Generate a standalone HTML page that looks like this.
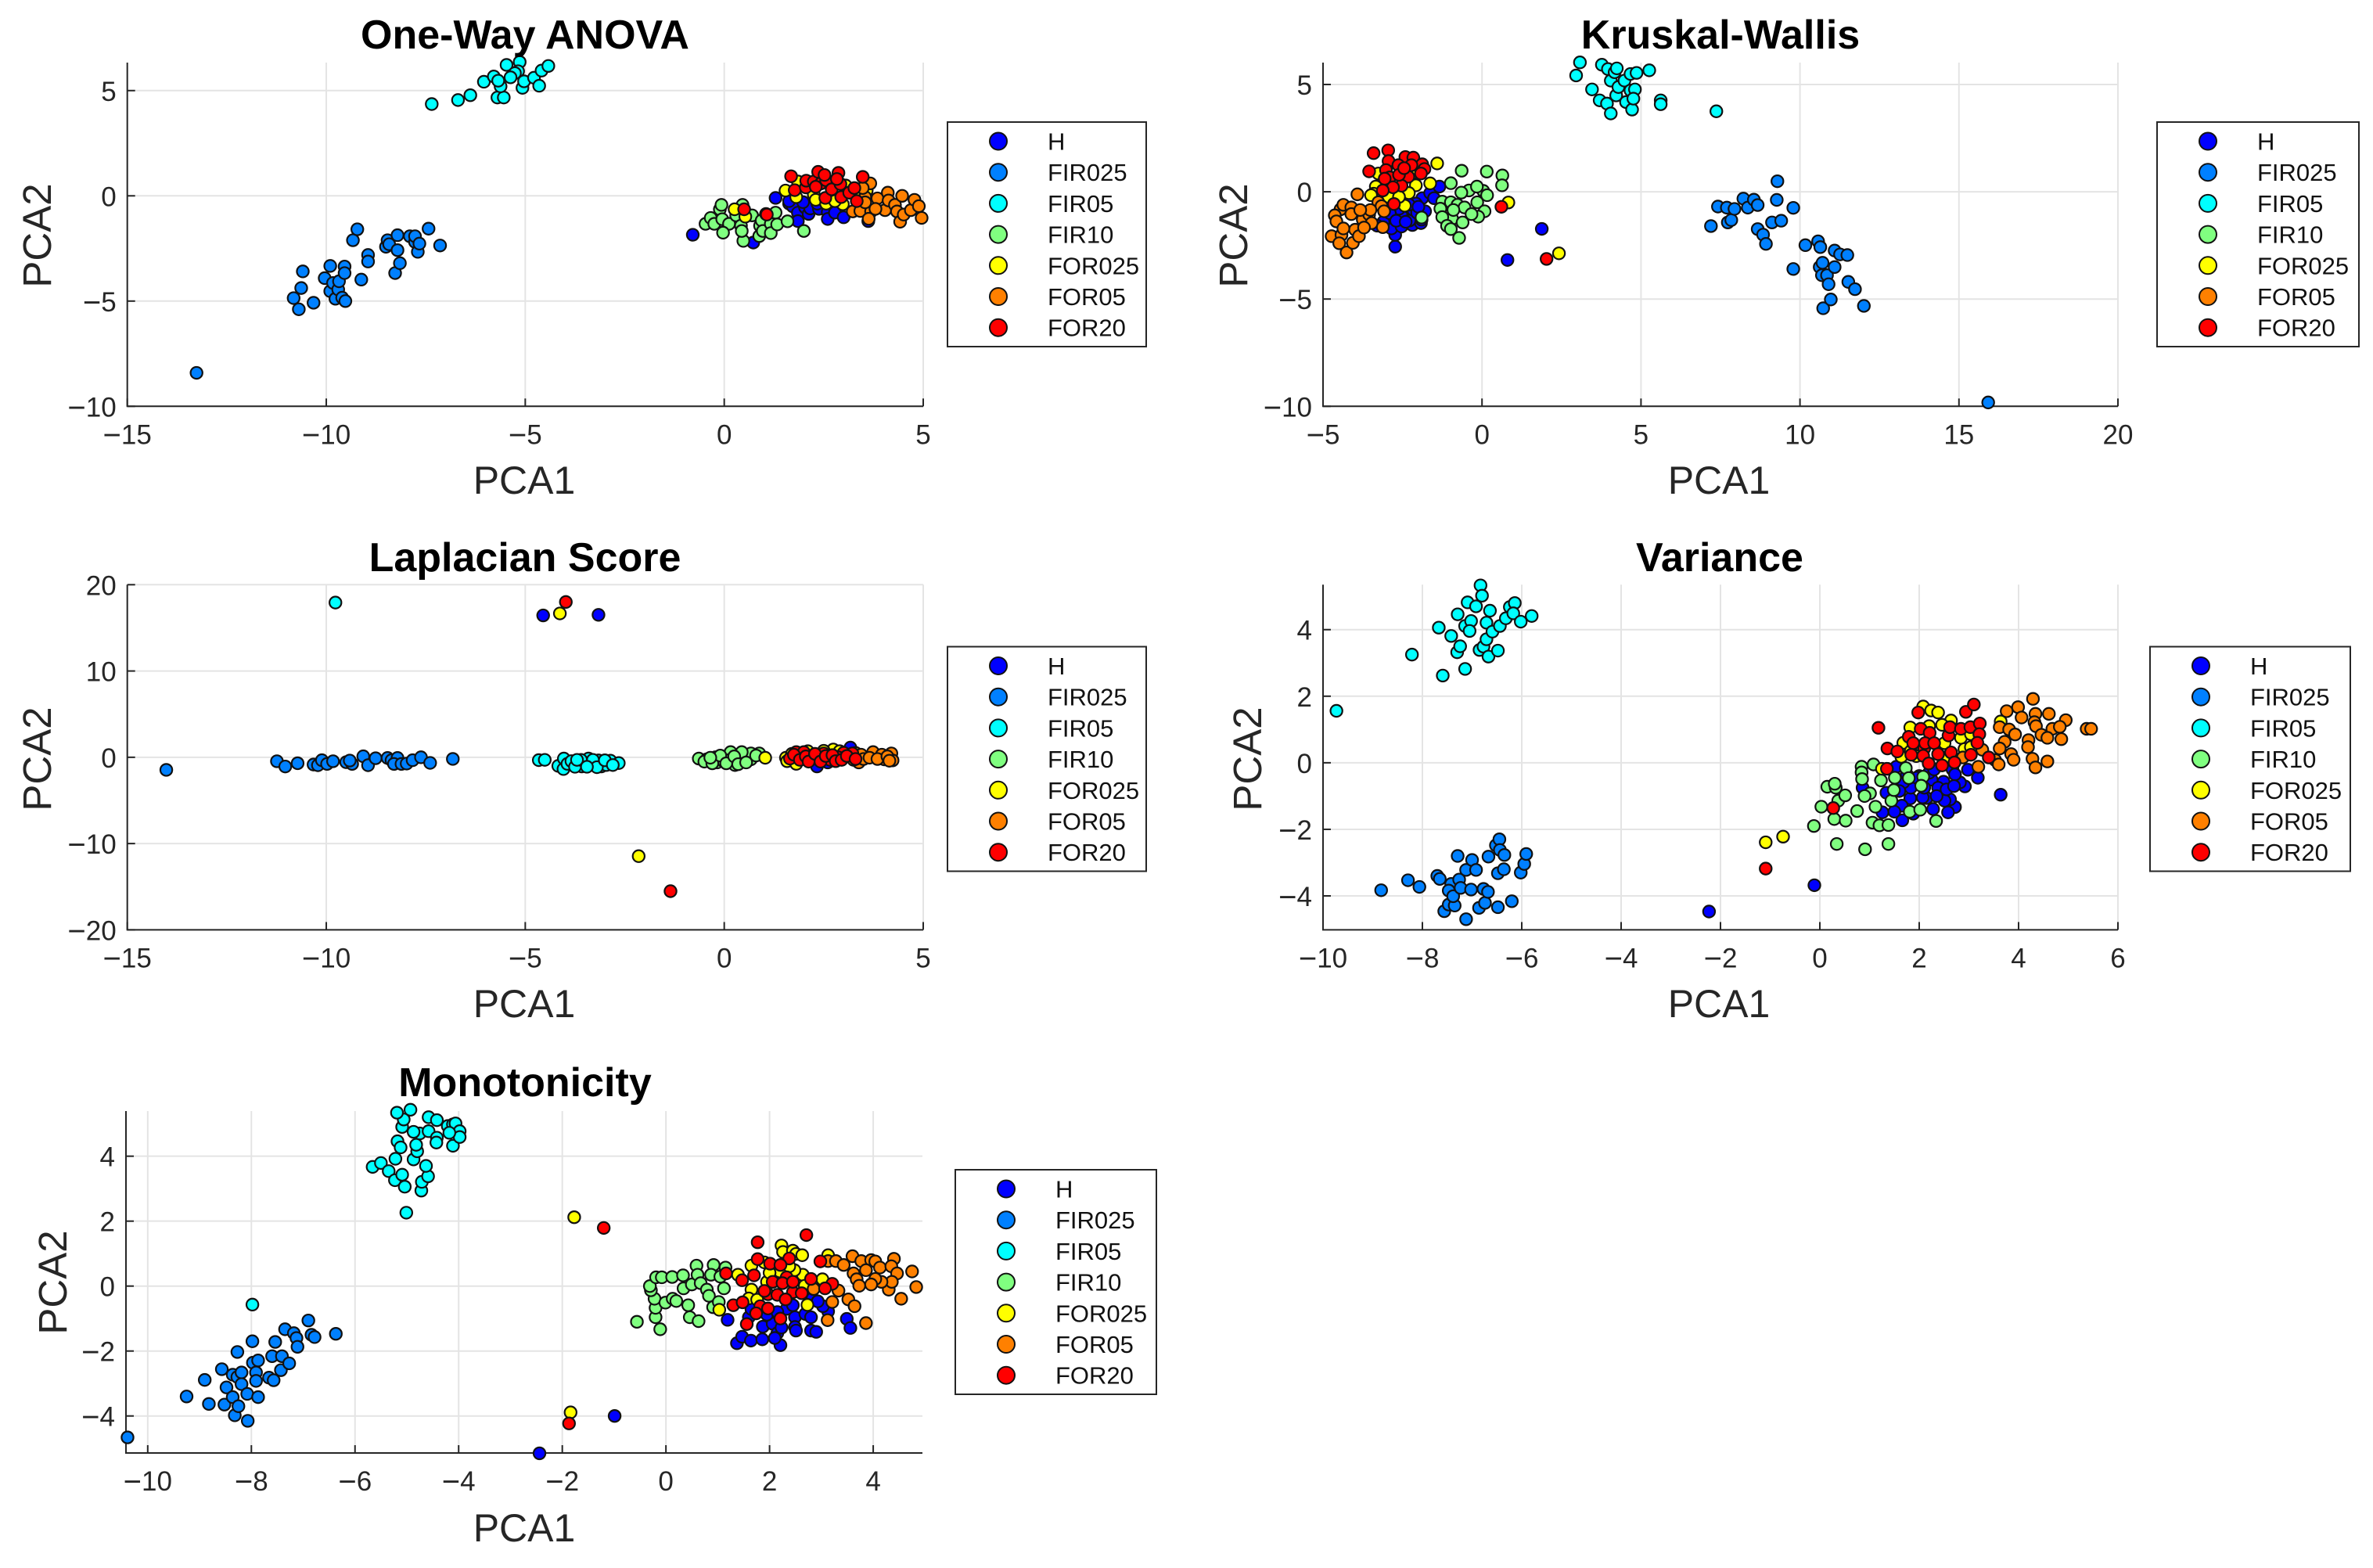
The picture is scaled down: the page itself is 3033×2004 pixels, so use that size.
<!DOCTYPE html>
<html lang="en">
<head>
<meta charset="utf-8">
<title>PCA scatter plots by feature selection method</title>
<style>
html,body{margin:0;padding:0;background:#fff;}
svg{display:block;font-family:"Liberation Sans",Arial,sans-serif;}
</style>
</head>
<body>
<svg id="figure" xmlns="http://www.w3.org/2000/svg" width="3033" height="2004" viewBox="0 0 3033 2004"></svg>
<script>
const seriesNames = ['H','FIR025','FIR05','FIR10','FOR025','FOR05','FOR20'];
const seriesColors = ['#0000ff','#0080ff','#00ffff','#80ff80','#ffff00','#ff8000','#ff0000'];

/* One-Way ANOVA */
const anovaHx = [-0.79,0.73,1.29,1.63,1.72,1.85,1.85,2.03,2.12,2.16,2.38,2.6,2.6,2.78,3.0,3.62,1.63,1.98,2.34];
const anovaHy = [-1.85,-2.22,-0.1,-0.37,-0.5,-0.8,-1.2,-0.55,-0.86,-0.6,-0.62,-0.77,-1.1,-0.8,-1.02,-1.2,-0.25,-0.3,-0.37];
const anovaFir025x = [-13.26,-10.82,-10.69,-10.63,-10.59,-10.32,-10.04,-9.9,-9.9,-9.83,-9.77,-9.7,-9.68,-9.6,-9.52,-9.54,-9.54,-9.33,-9.22,-9.12,-8.95,-8.95,-8.5,-8.46,-8.42,-8.27,-8.21,-8.21,-8.15,-7.9,-7.77,-7.77,-7.7,-7.66,-7.43,-7.14];
const anovaFir025y = [-8.41,-4.86,-5.39,-4.38,-3.59,-5.08,-3.91,-3.33,-4.53,-4.14,-4.89,-4.45,-4.06,-4.84,-5,-3.36,-3.67,-2.11,-1.59,-3.98,-2.81,-3.12,-2.42,-2.11,-2.3,-3.67,-2.58,-1.87,-3.2,-1.92,-2.19,-1.92,-2.66,-2.27,-1.56,-2.36];
const anovaFir05x = [-7.35,-6.69,-6.38,-6.04,-5.79,-5.7,-5.54,-5.62,-5.68,-5.47,-5.14,-5.18,-5.26,-5.37,-5.07,-5.03,-4.78,-4.65,-4.59,-4.42];
const anovaFir05y = [4.36,4.55,4.78,5.42,5.67,4.67,4.67,5.2,5.47,6.22,6.36,5.92,5.83,5.63,5.13,5.44,5.61,5.23,5.95,6.17];
const anovaFir10x = [-0.47,-0.34,-0.25,-0.11,-0.07,-0.05,0.12,-0.03,0.3,0.42,0.46,0.5,0.48,0.44,0.7,0.88,0.9,0.94,0.97,1.17,1.17,1.29,1.33,1.59,2.0,1.05];
const anovaFir10y = [-1.33,-1.05,-1.33,-0.64,-0.43,-1.11,-1.33,-1.75,-0.93,-1.42,-0.43,-0.68,-2.14,-1.67,-0.93,-1.91,-1.42,-1.17,-1.67,-1.33,-1.77,-0.8,-1.36,-1.21,-1.67,-0.86];
const anovaFor025x = [0.26,0.53,1.54,1.81,1.85,2.25,2.3,2.56,2.7,2.98,2.78,3.05,3.58,3.42];
const anovaFor025y = [-0.64,-0.99,0.25,-0.06,0.68,0.06,-0.19,-0.37,0.56,-0.4,-0.25,0.49,0.25,0.19];
const anovaFor05x = [3.23,3.42,3.67,3.54,3.69,3.63,3.85,4.04,4.11,4.13,4.29,4.34,4.42,4.47,4.51,4.69,4.78,4.89,4.96,3.48,3.8,3.54];
const anovaFor05y = [-0.74,-0.72,0.59,-0.06,-0.74,-1.09,-0.12,-0.68,0.15,-0.22,-0.43,-0.74,-1.23,0,-0.89,-0.68,-0.19,-0.49,-1.05,0.37,-0.62,-0.31];
const anovaFor20x = [0.5,1.07,1.68,1.77,2.05,2.06,2.25,2.36,2.43,2.3,2.56,2.54,2.7,2.87,2.92,2.94,3.14,3.27,3.33,3.48,2.83,2.52];
const anovaFor20y = [-0.64,-0.89,0.93,0.27,0.4,0.72,0.68,1.14,0.59,0.43,0.74,-0.1,0.31,1.09,0.56,-0.06,0.15,0.37,-0.25,0.9,0.8,0.99];
const anovaXTicks = [-15,-10,-5,0,5];
const anovaYTicks = [-10,-5,0,5];

/* Kruskal-Wallis */
const kruskalHx = [-2.73,-2.73,-2.85,-2.53,-2.19,-1.92,-2.51,-2.85,-3.1,-3.3,-2.28,-2.16,-1.88,-1.63,-1.51,-1.34,-2.08,-1.79,-2.04,1.88,0.8,-2.61,-2.9,-2.7,-2.4,-2.3,-2.0,-1.9];
const kruskalHy = [-2.56,-2.01,-1.71,-1.62,-1.55,-1.46,-1.16,-1.22,-1.4,-1.58,-1.34,-0.85,-0.3,-0.06,-0.3,0.24,-0.55,-0.91,-0.98,-1.73,-3.18,-0.79,-1,-1.35,-1.4,-0.6,-0.7,-1.3];
const kruskalFir025x = [7.2,7.42,7.7,7.73,7.84,7.94,8.22,8.36,8.55,8.67,8.67,8.84,8.93,9.12,9.27,9.29,9.41,9.79,9.79,10.17,10.57,10.64,10.62,10.71,10.69,10.73,10.85,10.9,10.97,11.09,11.09,11.26,11.49,11.52,11.73,12.01,15.92];
const kruskalFir025y = [-1.6,-0.69,-0.74,-1.43,-1.32,-0.8,-0.32,-0.74,-0.37,-0.62,-1.74,-2,-2.43,-1.43,-0.38,0.49,-1.35,-0.75,-3.6,-2.49,-2.31,-2.58,-3.51,-3.31,-3.89,-5.43,-3.89,-4.31,-5.02,-2.74,-3.51,-2.92,-2.95,-4.2,-4.54,-5.32,-9.82];
const kruskalFir05x = [2.96,3.08,3.46,3.7,3.77,3.93,3.96,4.05,4.05,4.17,4.24,4.22,4.29,4.48,4.53,4.67,4.67,4.72,4.81,4.86,4.76,5.26,5.62,5.62,7.37];
const kruskalFir05y = [5.42,6.03,4.77,4.26,5.92,4.11,5.72,3.65,5.18,5.57,5.75,4.49,4.88,5.18,4.18,4.72,5.49,3.83,4.77,5.54,4.34,5.66,4.26,4.08,3.75];
const kruskalFir10x = [-0.64,0.15,0.64,0.63,-0.98,-0.41,-0.65,0.04,0.16,-0.16,-1.25,-1.31,-0.98,-0.77,-0.55,-0.15,0.08,-0.12,-0.33,-0.94,-1.25,-0.61,-1.1,-0.98,-0.72,-1.9,-0.9];
const kruskalFir10y = [0.98,0.94,0.76,0.3,0.4,0.06,-0.04,0.04,-0.16,0.24,-0.46,-0.79,-0.49,-0.61,-0.73,-0.49,-0.91,-1.16,-1.04,-1.26,-1.18,-1.43,-1.59,-1.74,-2.15,-1.2,-0.85];
const kruskalFor025x = [-1.41,-1.63,-2.08,-2.43,-2.3,-3.34,-3.41,-3.49,-3.26,0.83,2.42,-2.12,-2.94,-2.61];
const kruskalFor025y = [1.32,0.39,0.3,-0.65,-0.06,0.24,-0.09,-0.16,0.85,-0.5,-2.87,0.91,-0.24,-0.24];
const kruskalFor05x = [-3.92,-4.45,-4.63,-4.58,-4.36,-4.11,-4.11,-4.73,-4.42,-4.49,-4.26,-4.06,-3.99,-3.87,-3.75,-3.55,-3.47,-3.71,-3.26,-3.16,-3.08,-3.12,-3.51,-4.36,-3.83];
const kruskalFor05y = [-0.12,-0.82,-1.1,-1.38,-0.61,-0.73,-1.04,-2.07,-2.01,-2.4,-2.83,-2.38,-1.77,-2.07,-1.3,-1.06,-1.46,-1.67,-0.49,-0.67,-0.91,-1.65,-0.85,-1.71,-0.85];
const kruskalFor20x = [-3.41,-2.95,-3.55,-2.94,-2.41,-2.16,-1.88,-2.63,-2.22,-1.81,-3.02,-2.9,-2.32,-2.53,-2.8,-3.12,-2.77,-1.92,-2.61,-3.06,0.61,2.03,-2.45];
const kruskalFor20y = [1.8,1.93,0.95,1.43,1.62,1.59,1.28,1.24,1.24,1.06,1.01,0.67,0.7,0.28,0.21,0.06,-0.57,0.85,0.79,0.61,-0.7,-3.13,1.1];
const kruskalXTicks = [-5,0,5,10,15,20];
const kruskalYTicks = [-10,-5,0,5];

/* Laplacian Score */
const laplacianHx = [2.33,3.17,2.6,-4.55,-3.16];
const laplacianHy = [-1.06,1.12,-0.6,16.44,16.51];
const laplacianFir025x = [-14.02,-11.24,-11.03,-10.72,-10.32,-10.21,-10.11,-9.98,-9.83,-9.5,-9.35,-9.41,-9.07,-8.95,-8.76,-8.46,-8.36,-8.21,-8.3,-8.11,-7.98,-7.83,-7.62,-7.39,-6.82];
const laplacianFir025y = [-1.46,-0.46,-1.07,-0.69,-0.84,-0.92,-0.34,-0.77,-0.46,-0.57,-0.77,-0.38,0.11,-0.92,-0.11,-0.08,-0.34,-0.08,-0.77,-0.77,-0.73,-0.34,0,-0.65,-0.19];
const laplacianFir05x = [-4.66,-4.51,-4.17,-4.04,-4.03,-3.94,-3.68,-3.52,-3.4,-3.29,-3.16,-3.09,-2.86,-2.65,-3.84,-3.41,-2.96,-3.58,-9.77,-3.75,-3.6,-3.3,-3.2,-3.0,-2.8,-3.7,-3.45];
const laplacianFir05y = [-0.33,-0.3,-1,-1.36,-0.15,-0.76,-0.6,-0.45,-0.9,-0.6,-0.36,-1.06,-0.39,-0.67,-0.45,-0.15,-0.9,-1.06,17.93,-1.1,-0.3,-0.3,-1.15,-0.35,-0.9,-0.3,-1.1];
const laplacianFir10x = [-0.64,-0.44,-0.22,-0.18,-0.02,0.16,0.14,0.27,0.4,0.67,0.67,0.88,0.44,-0.5,-0.3,-0.1,0.05,0.25,0.35,0.55,0.8,-0.35];
const laplacianFir10y = [-0.15,-0.24,0,-0.6,-0.45,0.6,-0.3,-0.9,-0.06,-0.24,0.45,0.45,0.6,-0.5,-0.7,0.2,-0.7,0.1,-0.8,-0.6,0.2,-0.05];
const laplacianFor025x = [1.03,1.55,1.58,1.81,2.74,2.27,-4.13,-2.15,1.7,2.1,2.5,2.9,3.3];
const laplacianFor025y = [-0.06,-0.06,-0.45,-0.76,0.9,-0.15,16.67,-11.46,0.4,0.7,0.75,0.7,0.5];
const laplacianFor05x = [3.38,3.44,3.74,3.96,4.02,4.2,4.23,3.25,3.5,3.65,3.85,4.1,4.15];
const laplacianFor05y = [-0.6,0.3,0.6,0.3,-0.24,0.45,-0.36,-0.3,-0.2,-0.05,-0.2,0.1,-0.4];
const laplacianFor20x = [1.65,1.81,2.0,1.94,2.2,2.38,2.66,2.5,3.0,3.22,2.86,2.17,-3.98,-1.35,1.75,1.9,2.05,2.12,2.28,2.42,2.55,2.72,2.8,2.95,3.08,3.3];
const laplacianFor20y = [-0.15,0.6,0.6,-0.24,0.06,-0.06,-0.3,0.45,0.52,0.45,0,-0.15,18,-15.52,0.3,-0.3,0.1,-0.5,0.4,-0.5,0.15,0.25,-0.45,-0.3,0.15,-0.2];
const laplacianXTicks = [-15,-10,-5,0,5];
const laplacianYTicks = [-20,-10,0,10,20];

/* Variance */
const varianceHx = [3.64,3.18,2.98,2.92,2.82,2.72,2.58,2.62,2.51,2.49,2.28,2.25,2.38,2.15,2.07,1.82,1.83,1.65,1.66,1.5,1.26,1.54,1.68,2.67,2.72,1.88,1.34,0.86,-0.11,-2.23,2.0,2.1,2.2,2.35,2.55,1.75,1.95,2.3,2.7,1.6];
const varianceHy = [-0.96,-0.45,-0.21,-0.71,-0.59,-1.33,-1.49,-1.1,-1.14,-0.57,-1.39,-0.51,-0.75,-1.06,-1.04,-1.07,-0.75,-1.29,-1.73,-1.47,-1.49,-0.12,-0.59,-0.2,-0.35,-1.53,-0.9,-0.75,-3.68,-4.47,-0.4,-0.75,-0.3,-1.0,-0.8,-0.35,-0.45,-0.2,-0.7,-0.85];
const varianceFir025x = [-8.83,-8.29,-8.06,-7.7,-7.65,-7.42,-7.47,-7.56,-7.47,-7.35,-7.38,-7.26,-7.29,-7.23,-7.12,-7.12,-7.0,-7.02,-6.92,-6.86,-6.74,-6.77,-6.68,-6.67,-6.52,-6.45,-6.48,-6.48,-6.44,-6.35,-6.36,-6.2,-6.02,-5.95,-5.91];
const varianceFir025y = [-3.83,-3.53,-3.73,-3.4,-3.49,-3.64,-3.84,-4.46,-4.26,-4.29,-4.01,-3.51,-2.8,-3.76,-4.7,-3.22,-2.92,-3.81,-3.22,-4.36,-4.21,-3.79,-3.88,-2.82,-2.48,-2.3,-3.32,-4.34,-2.62,-2.77,-3.2,-4.16,-3.3,-3.04,-2.74];
const varianceFir05x = [-9.73,-8.21,-7.59,-7.67,-7.42,-7.3,-7.24,-7.14,-7.29,-7.14,-7.09,-7.02,-7.05,-6.92,-6.85,-6.83,-6.8,-6.77,-6.71,-6.71,-6.67,-6.64,-6.59,-6.48,-6.44,-6.32,-6.24,-6.14,-6.17,-6.02,-5.8];
const varianceFir05y = [1.56,3.25,2.62,4.06,3.81,3.32,3.5,2.82,4.46,4.11,4.82,4.26,3.96,4.7,3.39,5.33,5.02,3.49,3.71,4.21,3.19,4.57,3.94,3.37,4.11,4.34,4.68,4.8,4.49,4.24,4.41];
const varianceFir10x = [-0.12,0.34,0.91,1.38,0.03,0.29,0.52,0.75,0.37,0.51,0.15,0.32,0.3,0.84,0.84,0.85,1.08,1.23,1.01,0.9,1.12,1.06,1.2,1.38,1.44,1.49,1.51,1.73,1.79,2.08,2.04,1.81,2.02,2.34];
const varianceFir10y = [-1.9,-2.44,-2.6,-2.44,-1.32,-1.69,-1.74,-1.45,-1.14,-0.98,-0.72,-0.75,-0.63,-0.12,-0.29,-0.49,-0.05,-0.53,-0.92,-1,-1.32,-1.8,-1.88,-1.87,-1.14,-0.82,-0.45,-0.16,-0.46,-0.42,-0.69,-1.47,-1.41,-1.75];
const varianceFor025x = [-1.09,-0.74,1.25,2.08,2.24,2.38,2.64,1.82,2.2,2.46,1.68,1.64,2.84,2.91,3.04,3.64,2.51,1.83,3.04,2.54,1.94];
const varianceFor025y = [-2.39,-2.22,-0.18,1.69,1.57,1.51,1.27,1.06,1.1,1.14,0.6,0.18,0.75,0.41,0.86,1.24,0.59,0.35,0.47,0.16,0.2];
const varianceFor05x = [4.29,3.76,3.99,4.06,4.34,4.32,4.61,4.95,3.62,3.81,3.93,4.35,4.68,4.83,4.46,4.86,4.58,4.2,4.19,3.72,3.62,3.85,3.9,3.53,3.6,4.28,4.34,4.58,5.37,5.46,3.27,3.19,2.88];
const varianceFor05y = [1.92,1.55,1.67,1.36,1.47,1.22,1.47,1.28,1.07,1,0.85,1.1,1.02,1.08,0.84,0.71,0.75,0.68,0.47,0.63,0.43,0.26,0.09,0.08,-0.05,0.12,-0.14,0.04,1.02,1.02,0.39,-0.12,0.16];
const varianceFor20x = [-1.09,0.27,1.18,1.35,1.36,1.56,1.79,1.88,1.84,1.98,2.03,2.21,2.1,2.12,2.08,2.19,2.3,2.38,2.46,2.59,2.62,2.64,2.71,2.84,3.03,3.04,2.94,3.1,3.22,3.21,3.17,3.4];
const varianceFor20y = [-3.18,-1.36,1.05,-0.18,0.43,0.34,0.78,0.59,0.24,1.51,1.02,0.9,0.43,0.59,0.21,-0.02,0.59,0.26,-0.08,0.82,1.07,0.31,0.01,1.02,1.07,0.24,1.53,1.75,1.18,0.86,0.6,0.16];
const varianceXTicks = [-10,-8,-6,-4,-2,0,2,4,6];
const varianceYTicks = [-4,-2,0,2,4];

/* Monotonicity */
const monoHx = [1.19,1.37,1.47,1.64,1.86,1.6,1.87,2.06,2.15,2.21,2.1,1.95,2.33,2.49,2.49,2.51,2.8,2.9,2.69,2.8,3.13,3.03,2.83,2.93,3.49,3.56,2.45,2.15,1.65,2.23,-0.99,-2.44];
const monoHy = [-1.04,-1.76,-1.56,-1.68,-1.64,-0.96,-1.25,-1.16,-1.45,-1.82,-1.6,-0.88,-0.7,-0.96,-1.26,-1.37,-1.37,-1.41,-0.86,-0.96,-0.78,-0.62,-0.38,-0.47,-1.01,-1.29,-0.59,-0.8,-0.71,-1.28,-4,-5.15];
const monoFir025x = [-10.39,-9.25,-8.9,-8.82,-8.57,-8.52,-8.48,-8.36,-8.36,-8.32,-8.27,-8.27,-8.25,-8.19,-8.19,-8.08,-8.07,-7.98,-7.97,-7.91,-7.91,-7.87,-7.87,-7.66,-7.6,-7.57,-7.54,-7.43,-7.41,-7.35,-7.27,-7.18,-7.13,-7.11,-6.9,-6.84,-6.78,-6.37];
const monoFir025y = [-4.66,-3.4,-2.89,-3.63,-2.56,-3.65,-3.12,-3.42,-2.73,-3.98,-2.03,-2.8,-3.7,-2.66,-3.02,-3.32,-4.15,-1.7,-2.36,-2.66,-2.92,-2.29,-3.42,-2.82,-2.16,-2.9,-1.72,-2.59,-2.16,-1.33,-2.38,-1.45,-1.6,-1.87,-1.06,-1.5,-1.57,-1.47];
const monoFir05x = [-7.98,-5.01,-5.66,-5.5,-5.35,-5.23,-5.09,-5.04,-4.72,-4.71,-4.59,-4.63,-4.87,-4.8,-5.22,-5.18,-5.12,-4.82,-4.75,-4.87,-5.09,-5.06,-5.19,-4.93,-4.58,-4.42,-4.58,-4.42,-4.43,-4.21,-4.11,-4.06,-4.11,-3.98,-3.98,-4.18];
const monoFir05y = [-0.57,2.26,3.67,3.79,3.54,3.26,3.43,3.06,2.94,3.21,3.38,3.7,3.9,4.15,3.92,4.46,4.27,4.35,4.7,4.75,4.9,5.13,5.34,5.43,5.2,5.11,4.77,4.57,4.42,4.93,4.98,5.01,4.32,4.77,4.59,4.72];
const monoFir10x = [-0.56,-0.11,-0.2,-0.2,-0.22,-0.29,-0.31,-0.19,-0.08,0.12,0.33,-0.01,0.13,0.2,0.43,0.46,0.63,0.34,0.5,0.59,0.61,0.67,0.79,0.83,0.91,1.02,0.92,0.87,1.05,1.12,1.15];
const monoFir10y = [-1.1,-1.33,-0.96,-0.67,-0.39,-0.13,0,0.27,0.27,0.28,0.33,-0.51,-0.39,-0.46,-0.59,-0.96,-1.08,-0.07,0.05,0.63,0.35,0.09,-0.11,-0.3,-0.65,-0.49,0.65,0.35,0.29,-0.07,0.57];
const monoFor025x = [1.03,1.39,1.65,1.6,1.76,1.65,1.9,2.23,2.26,2.45,2.51,2.63,2.64,2.48,2.2,1.95,2.73,2.68,3.13,3.02,2.0,2.38,-1.77,-1.84];
const monoFor025y = [-0.73,0.35,-0.11,-0.38,-0.42,0.63,0.73,1.25,1.05,1.09,0.99,0.95,0.35,0.49,0.45,0.13,-0.58,0.01,0.95,0.21,0.41,0.61,2.12,-3.89];
const monoFor05x = [3.13,3.28,3.43,3.6,3.77,3.96,4.04,4.4,4.13,4.35,4.46,4.75,4.83,4.54,4.3,4.36,4.16,4.04,3.86,3.62,3.68,3.73,3.33,2.85,3.21,3.52,3.64,3.86,3.12,3.96];
const monoFor05y = [0.77,0.77,0.65,0.92,0.77,0.8,0.76,0.84,0.57,0.61,0.39,0.45,-0.03,-0.39,-0.11,0.13,0.13,0.22,0.49,0.39,0.21,0.01,-0.14,-0.09,-0.49,-0.41,-0.62,-1.14,-1.05,0.05];
const monoFor20x = [2.71,1.77,1.77,2.38,2.98,1.16,1.47,1.7,2.01,2.21,2.33,2.06,2.8,3.21,3.07,2.45,2.62,1.97,2.15,2.31,1.3,1.48,1.82,1.97,1.74,2.21,1.56,1.9,2.25,2.45,-1.2,-1.87];
const monoFor20y = [1.57,1.35,0.83,0.85,0.76,0.39,0.18,0.33,0.69,0.65,0.27,0.13,0.22,0.07,-0.07,-0.19,-0.22,-0.25,-0.27,-0.41,-0.59,-0.5,-0.62,-0.69,-0.84,-1,-1.17,-0.15,0.09,0.13,1.79,-4.23];
const monoXTicks = [-10,-8,-6,-4,-2,0,2,4];
const monoYTicks = [-4,-2,0,2,4];

const panels = [
  {id:'anova', title:'One-Way ANOVA', box:[162.7,1180,80,519.3], xlim:[-15,5], ylim:[-10,6.33], xt:anovaXTicks, yt:anovaYTicks,
   xs:[anovaHx,anovaFir025x,anovaFir05x,anovaFir10x,anovaFor025x,anovaFor05x,anovaFor20x],
   ys:[anovaHy,anovaFir025y,anovaFir05y,anovaFir10y,anovaFor025y,anovaFor05y,anovaFor20y],
   titleX:671, titleY:62, xlabX:670, xlabY:631, ylabX:65, ylabY:301, leg:[1211,156,254,287]},
  {id:'kruskal', title:'Kruskal-Wallis', box:[1691,2707,80,519.3], xlim:[-5,20], ylim:[-10,6.02], xt:kruskalXTicks, yt:kruskalYTicks,
   xs:[kruskalHx,kruskalFir025x,kruskalFir05x,kruskalFir10x,kruskalFor025x,kruskalFor05x,kruskalFor20x],
   ys:[kruskalHy,kruskalFir025y,kruskalFir05y,kruskalFir10y,kruskalFor025y,kruskalFor05y,kruskalFor20y],
   titleX:2199, titleY:62, xlabX:2197, xlabY:631, ylabX:1594, ylabY:301, leg:[2757,156,258,287]},
  {id:'laplacian', title:'Laplacian Score', box:[162.7,1180,747.3,1188.4], xlim:[-15,5], ylim:[-20,20], xt:laplacianXTicks, yt:laplacianYTicks,
   xs:[laplacianHx,laplacianFir025x,laplacianFir05x,laplacianFir10x,laplacianFor025x,laplacianFor05x,laplacianFor20x],
   ys:[laplacianHy,laplacianFir025y,laplacianFir05y,laplacianFir10y,laplacianFor025y,laplacianFor05y,laplacianFor20y],
   titleX:671, titleY:730, xlabX:670, xlabY:1300, ylabX:65, ylabY:970, leg:[1211,826.5,254,287]},
  {id:'variance', title:'Variance', box:[1691,2707,747.3,1188.4], xlim:[-10,6], ylim:[-5.02,5.35], xt:varianceXTicks, yt:varianceYTicks,
   xs:[varianceHx,varianceFir025x,varianceFir05x,varianceFir10x,varianceFor025x,varianceFor05x,varianceFor20x],
   ys:[varianceHy,varianceFir025y,varianceFir05y,varianceFir10y,varianceFor025y,varianceFor05y,varianceFor20y],
   titleX:2198, titleY:730, xlabX:2197, xlabY:1300, ylabX:1612, ylabY:970, leg:[2748,826.5,256,287]},
  {id:'monotonicity', title:'Monotonicity', box:[161,1179,1420,1857], xlim:[-10.42,4.95], ylim:[-5.14,5.39], xt:monoXTicks, yt:monoYTicks,
   xs:[monoHx,monoFir025x,monoFir05x,monoFir10x,monoFor025x,monoFor05x,monoFor20x],
   ys:[monoHy,monoFir025y,monoFir05y,monoFir10y,monoFor025y,monoFor05y,monoFor20y],
   titleX:671, titleY:1401, xlabX:670, xlabY:1970, ylabX:85, ylabY:1639, leg:[1221,1495,257,287]}
];

const SVGNS = 'http://www.w3.org/2000/svg';
const fig = document.getElementById('figure');

function make(tag, parent, props) {
  const el = document.createElementNS(SVGNS, tag);
  for (const k in props) el.setAttribute(k, props[k]);
  parent.appendChild(el);
  return el;
}
function fmt(v) { return String(v).replace('-', '\u2212'); }
function tickText(parent, v, x, y, anchor) {
  const t = make('text', parent, {x:x, y:y, 'text-anchor':anchor, 'font-size':35, fill:'#262626'});
  const s = fmt(v);
  if (s[0] === '\u2212') {
    const m = make('tspan', t, {'font-size':40, dy:2});
    m.textContent = '\u2212';
    const r = make('tspan', t, {dy:-2});
    r.textContent = s.slice(1);
  } else {
    t.textContent = s;
  }
  return t;
}

panels.forEach(function (p) {
  const L = p.box[0], R = p.box[1], T = p.box[2], B = p.box[3];
  const sx = function (v) { return L + (v - p.xlim[0]) / (p.xlim[1] - p.xlim[0]) * (R - L); };
  const sy = function (v) { return B - (v - p.ylim[0]) / (p.ylim[1] - p.ylim[0]) * (B - T); };

  const g = make('g', fig, {});
  
  

  const grid = make('g', g, {stroke:'#e4e4e4', 'stroke-width':2});
  
  
  p.xt.forEach(function (v) {
    const l = make('line', grid, {x1:sx(v), x2:sx(v), y1:T, y2:B});
    
    
  });
  p.yt.forEach(function (v) {
    const l = make('line', grid, {x1:L, x2:R, y1:sy(v), y2:sy(v)});
    
    
  });

  const axes = make('g', g, {stroke:'#262626', 'stroke-width':2, fill:'none'});
  
  
  const axisPath = make('path', axes, {d:'M' + L + ' ' + T + 'V' + B + 'H' + R});
  
  
  p.xt.forEach(function (v) {
    const l = make('line', axes, {x1:sx(v), x2:sx(v), y1:B, y2:B - 10});
    
    
    const t = tickText(g, v, sx(v), B + 48, 'middle');
    
    
  });
  p.yt.forEach(function (v) {
    const l = make('line', axes, {x1:L, x2:L + 10, y1:sy(v), y2:sy(v)});
    
    
    const t = tickText(g, v, L - 14, sy(v) + 13, 'end');
    
    
  });

  seriesNames.forEach(function (name, i) {
    const sg = make('g', g, {fill:seriesColors[i], stroke:'#111', 'stroke-width':2.2});
    
    
    p.xs[i].forEach(function (xv, k) {
      const c = make('circle', sg, {cx:sx(xv), cy:sy(p.ys[i][k]), r:7.6});
      
      
    });
  });

  const title = make('text', g, {x:p.titleX, y:p.titleY, 'text-anchor':'middle', 'font-size':52, 'font-weight':'bold', fill:'#000'});
  title.textContent = p.title;
  
  

  const xl = make('text', g, {x:p.xlabX, y:p.xlabY, 'text-anchor':'middle', 'font-size':50, fill:'#262626'});
  xl.textContent = 'PCA1';
  
  

  const yl = make('text', g, {x:0, y:0, transform:'translate(' + p.ylabX + ',' + p.ylabY + ') rotate(-90)', 'text-anchor':'middle', 'font-size':51, fill:'#262626'});
  yl.textContent = 'PCA2';
  
  

  const lg = make('g', g, {});
  
  
  const lr = make('rect', lg, {x:p.leg[0], y:p.leg[1], width:p.leg[2], height:p.leg[3], fill:'#fff', stroke:'#262626', 'stroke-width':2});
  
  
  seriesNames.forEach(function (name, i) {
    const cy = p.leg[1] + 24.5 + i * 39.7;
    const c = make('circle', lg, {cx:p.leg[0] + 65, cy:cy, r:11, fill:seriesColors[i], stroke:'#111', 'stroke-width':2});
    
    
    const t = make('text', lg, {x:p.leg[0] + 128, y:cy + 11, 'font-size':31, fill:'#111'});
    t.textContent = name;
    
    
  });
});
</script>
</body>
</html>
